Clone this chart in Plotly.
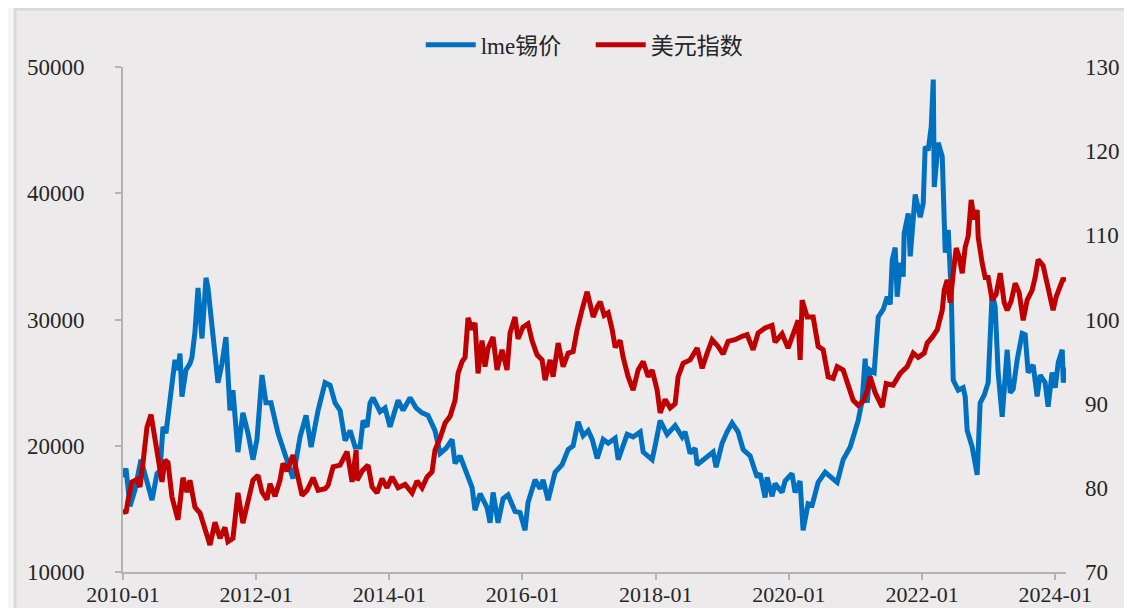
import plotly.graph_objects as go
import pandas as pd

# ---- data (dates as fractional years) ----
tin_dates = [
2010.000,2010.045,2010.105,2010.180,2010.270,2010.345,2010.436,2010.511,2010.556,2010.601,2010.646,2010.706,2010.781,2010.826,2010.856,2010.886,2010.946,
2011.006,2011.036,2011.081,2011.127,2011.187,2011.247,2011.277,2011.322,2011.382,2011.427,2011.487,2011.547,2011.607,2011.652,2011.727,2011.802,2011.878,2011.953,
2012.013,2012.088,2012.148,2012.223,2012.328,2012.433,2012.553,2012.659,2012.749,2012.824,2012.929,
2013.034,2013.109,2013.184,2013.259,2013.334,2013.410,2013.485,2013.560,2013.605,2013.665,2013.710,2013.755,2013.860,2013.935,
2014.010,2014.131,2014.206,2014.311,2014.401,2014.491,2014.581,2014.686,2014.762,2014.852,2014.942,2014.987,
2015.062,2015.137,2015.242,2015.287,2015.363,2015.468,2015.513,2015.558,2015.633,2015.708,2015.783,2015.888,2015.963,
2016.038,2016.083,2016.189,2016.264,2016.309,2016.384,2016.489,2016.594,2016.684,2016.759,2016.834,2016.909,2016.985,
2017.045,2017.120,2017.210,2017.285,2017.390,2017.435,2017.570,2017.660,2017.766,2017.811,2017.946,2017.991,
2018.066,2018.171,2018.291,2018.396,2018.441,2018.516,2018.592,2018.622,2018.742,2018.862,2018.907,2018.997,
2019.072,2019.147,2019.237,2019.313,2019.418,2019.523,2019.568,2019.643,2019.673,2019.748,2019.793,2019.898,2019.943,
2020.048,2020.093,2020.168,2020.213,2020.288,2020.349,2020.439,2020.544,2020.619,2020.724,2020.814,2020.919,2020.994,
2021.039,2021.099,2021.144,2021.174,2021.219,2021.279,2021.325,2021.340,2021.415,2021.475,2021.520,2021.550,2021.595,2021.625,2021.670,2021.715,2021.730,2021.791,2021.821,2021.866,2021.896,2021.971,
2022.016,2022.046,2022.091,2022.137,2022.167,2022.182,2022.242,2022.302,2022.317,2022.347,2022.392,2022.437,2022.467,2022.542,2022.617,2022.647,2022.677,2022.752,2022.827,2022.872,2022.932,2022.992,
2023.052,2023.097,2023.127,2023.142,2023.203,2023.233,2023.278,2023.323,2023.368,2023.428,2023.503,2023.548,2023.593,2023.668,2023.728,2023.773,2023.848,2023.893,2023.953,
2024.000,2024.045,2024.105,2024.120,2024.150]

tin_price = [
17500,18200,15200,16500,18900,17500,15700,17800,18000,21500,21000,23600,26800,26000,27300,23900,26000,
26500,27000,29000,32500,28500,33300,32500,30000,27500,25000,26500,28600,22800,24400,19500,22600,21000,18900,
20500,25600,23400,23400,21000,19400,17400,20700,22400,19900,22800,
25000,24800,23400,22800,20400,21200,19900,19900,22000,21500,23400,23800,22700,23000,
21500,23600,22800,23800,23000,22600,22400,21200,19400,19800,20500,18600,
19200,18100,16700,14900,16200,15100,13900,16300,13900,15800,16100,14800,14700,
13300,15500,17300,16600,17300,15700,17900,18500,19700,20000,21900,20800,21200,
20500,19000,20500,20200,20600,18900,20900,20700,21100,19500,18900,20000,
22000,20900,21600,20700,21100,19400,19800,18500,19000,19500,18300,20200,
21100,21800,21100,19700,19200,17500,17800,15900,17500,16000,17000,16300,17200,
17800,16300,17200,13300,15400,15300,17100,17900,17600,17100,18900,19900,21200,
22000,23600,26900,23400,26000,25800,28400,30200,30800,31800,31200,34700,35700,31800,34500,33400,36800,38400,35000,37500,39900,38100,
39200,43700,43400,45300,49000,40500,44000,42900,40000,35300,37100,32100,25200,24400,24600,23900,21200,19900,17700,23400,24000,25000,
32100,31000,27600,25800,22300,25000,27600,24200,24500,26800,28900,28800,25800,26400,23900,25600,25000,23100,25800,
24600,26600,27600,25000,26200]

usd_dates = [
2010.000,2010.045,2010.075,2010.135,2010.210,2010.255,2010.300,2010.360,2010.421,2010.481,2010.526,2010.586,2010.631,2010.676,2010.736,2010.826,2010.901,2010.961,
2011.006,2011.081,2011.157,2011.232,2011.307,2011.382,2011.457,2011.532,2011.577,2011.652,2011.727,2011.802,2011.878,2011.953,
2012.028,2012.088,2012.163,2012.208,2012.283,2012.358,2012.403,2012.463,2012.553,2012.613,2012.689,2012.764,2012.854,2012.929,
2013.034,2013.079,2013.154,2013.259,2013.364,2013.440,2013.500,2013.515,2013.590,2013.680,2013.740,2013.815,2013.890,2013.965,
2014.040,2014.131,2014.236,2014.341,2014.416,2014.491,2014.566,2014.641,2014.686,2014.762,2014.837,2014.912,2014.987,
2015.032,2015.092,2015.137,2015.182,2015.242,2015.287,2015.332,2015.392,2015.437,2015.482,2015.558,2015.618,2015.693,2015.768,2015.813,2015.888,2015.933,
2016.008,2016.083,2016.143,2016.218,2016.294,2016.339,2016.414,2016.459,2016.534,2016.609,2016.684,2016.759,2016.819,2016.894,2016.969,
2017.015,2017.060,2017.120,2017.165,2017.225,2017.285,2017.345,2017.390,2017.465,2017.510,2017.585,2017.660,2017.735,2017.811,2017.886,2017.946,
2018.021,2018.066,2018.141,2018.216,2018.291,2018.336,2018.411,2018.516,2018.622,2018.697,2018.772,2018.847,2018.937,
2019.012,2019.087,2019.192,2019.297,2019.373,2019.463,2019.538,2019.643,2019.748,2019.793,2019.898,2019.988,
2020.063,2020.139,2020.169,2020.199,2020.274,2020.364,2020.439,2020.514,2020.589,2020.664,2020.724,2020.814,2020.889,2020.964,
2021.039,2021.114,2021.174,2021.219,2021.294,2021.400,2021.460,2021.565,2021.670,2021.776,2021.866,2021.941,
2022.031,2022.076,2022.152,2022.227,2022.302,2022.332,2022.377,2022.422,2022.467,2022.512,2022.557,2022.602,2022.647,2022.692,2022.737,2022.782,2022.827,2022.842,2022.902,2022.947,2022.992,
2023.052,2023.112,2023.173,2023.233,2023.278,2023.338,2023.398,2023.458,2023.518,2023.578,2023.653,2023.698,2023.743,2023.818,2023.878,2023.923,2023.968,
2024.014,2024.059,2024.120,2024.150]

usd_index = [
77.4,77.0,78.5,80.7,81.0,80.1,82.9,87.2,88.7,86.0,84.1,80.7,83.3,83.0,78.9,76.2,81.2,79.5,
80.9,77.7,77.0,75.3,73.2,75.9,74.0,75.3,73.6,74.0,79.4,75.8,78.5,80.9,
81.5,79.5,78.6,80.5,79.0,80.9,82.9,82.0,83.9,82.0,79.1,79.7,81.2,79.7,
79.9,80.3,82.5,82.7,84.3,80.7,84.5,80.9,82.0,82.7,80.1,79.4,81.1,80.0,
81.3,80.0,80.4,79.4,80.8,80.0,81.3,81.9,84.5,85.9,87.7,88.5,90.4,
93.6,95.0,95.5,100.2,98.8,99.6,93.6,97.5,94.4,96.6,97.9,94.0,96.4,94.0,98.4,100.3,97.7,
99.1,99.5,97.5,95.8,95.2,92.8,95.2,93.2,97.2,94.4,96.0,96.2,98.8,101.2,103.3,
101.8,100.3,101.5,102.1,100.5,100.8,98.8,96.7,97.5,95.5,93.2,91.6,94.0,95.0,93.2,94.0,
91.6,88.9,90.5,89.5,90.0,93.2,94.8,95.2,96.6,94.2,96.0,97.6,96.8,
95.9,97.4,97.6,98.0,98.2,96.4,98.4,99.0,99.3,97.3,98.3,96.6,
98.4,99.9,95.2,102.3,100.3,100.3,96.8,96.4,93.2,93.0,94.4,94.0,92.2,90.4,
89.8,90.3,91.5,93.2,91.3,89.6,92.4,92.2,93.6,94.4,96.0,95.5,
96.0,97.2,97.9,98.8,101.1,103.5,104.7,102.0,105.5,108.5,107.4,105.5,108.6,109.9,114.2,111.9,113.0,109.8,106.7,105.0,105.0,
102.3,103.0,105.5,102.0,101.1,102.2,104.3,103.2,99.9,102.3,103.5,105.0,107.1,106.4,104.5,102.8,101.1,
102.7,103.5,104.9,104.5]

x_tick_vals = ["2010-01-01", "2012-01-01", "2014-01-01", "2016-01-01",
               "2018-01-01", "2020-01-01", "2022-01-01", "2024-01-01"]
x_tick_text = ["2010-01", "2012-01", "2014-01", "2016-01",
               "2018-01", "2020-01", "2022-01", "2024-01"]
left_ticks = [10000, 20000, 30000, 40000, 50000]
right_ticks = [70, 80, 90, 100, 110, 120, 130]


def to_date(fy):
    y = int(fy)
    start = pd.Timestamp(year=y, month=1, day=1)
    end = pd.Timestamp(year=y + 1, month=1, day=1)
    return start + (end - start) * (fy - y)


tin_x = [to_date(v) for v in tin_dates]
usd_x = [to_date(v) for v in usd_dates]

FONT = "Liberation Serif, 'Times New Roman', 'Noto Sans CJK SC', serif"
AXIS_GREY = "#b3b3b3"

fig = go.Figure()
fig.add_trace(go.Scatter(x=tin_x, y=tin_price, name="lme锡价", mode="lines",
                         line=dict(color="#0070C0", width=5), yaxis="y"))
fig.add_trace(go.Scatter(x=usd_x, y=usd_index, name="美元指数", mode="lines",
                         line=dict(color="#C00000", width=5), yaxis="y2"))

fig.update_layout(
    width=1132, height=608,
    margin=dict(l=115, r=74, t=59, b=44, autoexpand=False),
    paper_bgcolor="#f6f6f6",
    plot_bgcolor="#edeaeb",
    font=dict(family=FONT, size=23, color="#262626"),
    showlegend=True,
    legend=dict(orientation="h", x=0.496, y=1.044, xanchor="center", yanchor="middle",
                bgcolor="rgba(0,0,0,0)", font=dict(size=23, family=FONT),
                entrywidth=105, entrywidthmode="pixels", itemwidth=50,
                tracegroupgap=0),
    xaxis=dict(type="date", range=["2010-01-01", "2024-02-29"], automargin=False,
               tickvals=x_tick_vals, ticktext=x_tick_text,
               showgrid=False, zeroline=False,
               showline=True, linecolor=AXIS_GREY, linewidth=2,
               ticks="outside", ticklen=6, tickcolor=AXIS_GREY, tickwidth=2,
               ticklabelstandoff=-4, tickfont=dict(size=22)),
    yaxis=dict(range=[10000, 50000], tickvals=left_ticks, tickformat="d",
               automargin=False,
               showgrid=False, zeroline=False,
               showline=True, linecolor=AXIS_GREY, linewidth=2,
               ticks="outside", ticklen=6, tickcolor=AXIS_GREY, tickwidth=2,
               ticklabelstandoff=26, tickfont=dict(size=23)),
    yaxis2=dict(range=[70, 130], tickvals=right_ticks, tickformat="d",
                overlaying="y", side="right", automargin=False,
                showgrid=False, zeroline=False, showline=False, ticks="",
                ticklabelstandoff=18, tickfont=dict(size=23)),
    shapes=[dict(type="rect", xref="paper", yref="paper",
                 x0=-0.1145, x1=1.09, y0=-0.1, y1=1.115,
                 fillcolor="#edeaeb", line=dict(color="#d9d9d9", width=3),
                 layer="below")],
)

fig.write_html("out.html")
